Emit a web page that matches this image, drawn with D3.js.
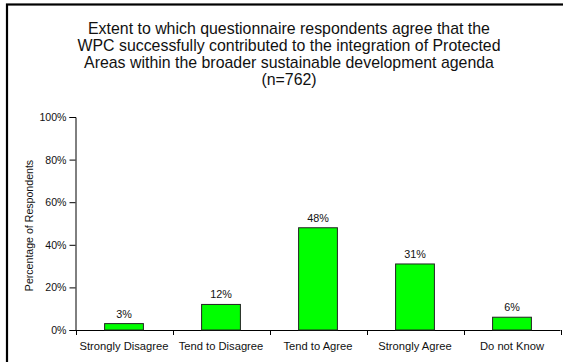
<!DOCTYPE html>
<html>
<head>
<meta charset="utf-8">
<script src="https://cdn.jsdelivr.net/npm/d3@7"></script>
<style>
  html, body { margin: 0; padding: 0; background: #fff; }
  svg { display: block; font-family: "Liberation Sans", Arial, sans-serif; }
</style>
</head>
<body>
<svg id="chart" width="563" height="362"></svg>
<script>
// Survey responses (percentage of respondents)
const categories = ["Strongly Disagree", "Tend to Disagree", "Tend to Agree", "Strongly Agree", "Do not Know"];
const values = [3, 12, 48, 31, 6];
const yTicks = [0, 20, 40, 60, 80, 100];
const titleLines = [
  "Extent to which questionnaire respondents agree that the",
  "WPC successfully contributed to the integration of Protected",
  "Areas within the broader sustainable development agenda",
  "(n=762)"
];
const yAxisTitle = "Percentage of Respondents";

const svg = d3.select("#chart");

// Outer chart frame
svg.append("rect")
  .attr("x", 7).attr("y", 4.5)
  .attr("width", 600).attr("height", 400)
  .attr("fill", "none").attr("stroke", "#000").attr("stroke-width", 2.2);

// Title
const title = svg.append("text")
  .attr("text-anchor", "middle")
  .attr("font-size", 15.9)
  .attr("fill", "#111");
titleLines.forEach((t, i) => {
  title.append("tspan").attr("x", 289).attr("y", 33.5 + i * 17.3).text(t);
});

const plot = { left: 75.5, right: 560.5, top: 117, bottom: 330 };

const x = d3.scaleBand().domain(categories).range([plot.left, plot.right]).padding(0);
const y = d3.scaleLinear().domain([0, 100]).range([plot.bottom, plot.top]);

// Y axis
const yAxis = d3.axisLeft(y).tickValues(yTicks).tickFormat(d => d + "%").tickSize(6).tickPadding(3);
const gy = svg.append("g").attr("transform", `translate(${plot.left},0)`).call(yAxis);
gy.select(".domain").attr("stroke", "#000");
gy.selectAll(".tick line").attr("stroke", "#000");
gy.selectAll(".tick text").attr("font-size", 10.6).attr("fill", "#111").attr("font-family", "Liberation Sans, Arial, sans-serif");

// X axis with ticks at category boundaries
svg.append("line")
  .attr("x1", plot.left).attr("x2", plot.right)
  .attr("y1", plot.bottom + 0.5).attr("y2", plot.bottom + 0.5)
  .attr("stroke", "#000");
const boundaries = categories.map(c => x(c)).concat([x(categories[categories.length - 1]) + x.bandwidth()]);
svg.selectAll(".xtick").data(boundaries).join("line")
  .attr("class", "xtick")
  .attr("x1", d => Math.round(d) + 0.5).attr("x2", d => Math.round(d) + 0.5)
  .attr("y1", plot.bottom).attr("y2", plot.bottom + 5)
  .attr("stroke", "#000");
svg.selectAll(".xlabel").data(categories).join("text")
  .attr("class", "xlabel")
  .attr("x", d => x(d) + x.bandwidth() / 2)
  .attr("y", 350)
  .attr("text-anchor", "middle")
  .attr("font-size", 11.2)
  .attr("fill", "#111")
  .text(d => d);

// Y axis title
svg.append("text")
  .attr("transform", `translate(33,${(plot.top + plot.bottom) / 2 + 2}) rotate(-90)`)
  .attr("text-anchor", "middle")
  .attr("font-size", 10.6)
  .attr("fill", "#111")
  .text(yAxisTitle);

// Bars
const barW = x.bandwidth() * 0.4;
const data = categories.map((c, i) => ({ c, v: values[i] }));
svg.selectAll(".bar").data(data).join("rect")
  .attr("class", "bar")
  .attr("x", d => x(d.c) + (x.bandwidth() - barW) / 2)
  .attr("y", d => y(d.v))
  .attr("width", barW)
  .attr("height", d => y(0) - y(d.v))
  .attr("fill", "#00ff00")
  .attr("stroke", "#222")
  .attr("stroke-width", 1);

// Value labels
svg.selectAll(".val").data(data).join("text")
  .attr("class", "val")
  .attr("x", d => x(d.c) + x.bandwidth() / 2)
  .attr("y", d => y(d.v) - 6)
  .attr("text-anchor", "middle")
  .attr("font-size", 10.8)
  .attr("fill", "#111")
  .text(d => d.v + "%");
</script>
</body>
</html>
